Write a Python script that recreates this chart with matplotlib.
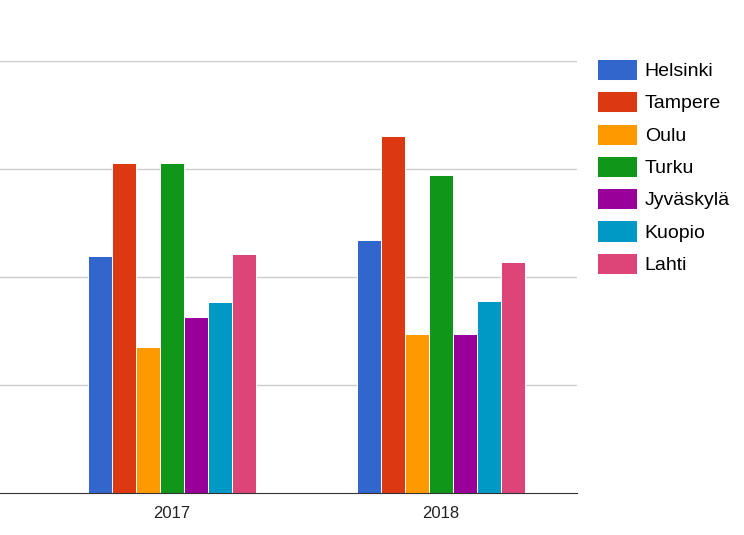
import numpy as np
import matplotlib
matplotlib.use("Agg")
import matplotlib.pyplot as plt

plt.rcParams['font.family'] = ['Liberation Sans', 'DejaVu Sans']

years = ["2017", "2018"]
cities = ["Helsinki", "Tampere", "Oulu", "Turku", "Jyväskylä", "Kuopio", "Lahti"]
colors = ["#3366cc", "#dc3912", "#ff9900", "#109618", "#990099", "#0099c6", "#dd4477"]

# values per city, [2017, 2018] (no axis labels in the source, grid step = 1)
helsinki = [2.19, 2.34]
tampere = [3.06, 3.31]
oulu = [1.35, 1.47]
turku = [3.06, 2.94]
jyvaskyla = [1.63, 1.47]
kuopio = [1.77, 1.78]
lahti = [2.21, 2.14]
series = [helsinki, tampere, oulu, turku, jyvaskyla, kuopio, lahti]

fig = plt.figure(figsize=(7.44, 5.35), dpi=100)
ax = fig.add_axes([0, 1 - 493 / 535, 577 / 744, 432 / 535])

x = np.arange(len(years))
slot = 24 / 269.5
for i, (name, vals) in enumerate(zip(cities, series)):
    offs = (i - (len(cities) - 1) / 2) * slot
    ax.bar(x + offs, vals, width=slot, color=colors[i], edgecolor="white",
           linewidth=0.7, label=name, zorder=3)

ax.set_xlim(-171.5 / 269.5, 1 + 136 / 269.5)
ax.set_ylim(0, 4)
ax.set_yticks([1, 2, 3, 4])
ax.set_yticklabels([])
ax.tick_params(axis="y", length=0)
ax.grid(axis="y", color="#cccccc", linewidth=1, zorder=0)
ax.set_xticks(x)
ax.set_xticklabels(years, fontsize=12, color="#222222")
ax.tick_params(axis="x", length=0, pad=9)
for s in ["top", "right", "left"]:
    ax.spines[s].set_visible(False)
ax.spines["bottom"].set_color("#333333")
ax.spines["bottom"].set_zorder(4)

fig.legend(loc="upper left", bbox_to_anchor=(597 / 744, 1 - 59 / 535),
           frameon=False, fontsize=14, handlelength=2.05, handleheight=1.3,
           handletextpad=0.4, labelspacing=0.57, borderaxespad=0,
           borderpad=0)

fig.savefig("out.png", dpi=100)
